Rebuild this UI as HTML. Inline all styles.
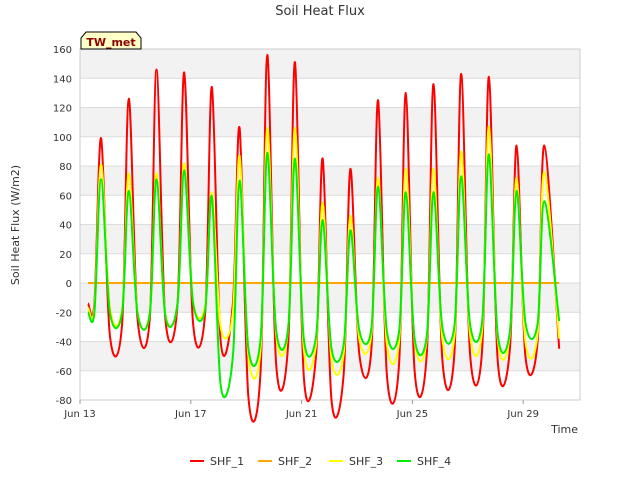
<!DOCTYPE html>
<html><head><meta charset="utf-8"><style>
body{margin:0;background:#fff;font-family:"Liberation Sans","DejaVu Sans",sans-serif}
svg text{font-family:"DejaVu Sans","Liberation Sans",sans-serif}
</style></head><body>
<svg id="c" width="640" height="480" xmlns="http://www.w3.org/2000/svg">
<rect width="640" height="480" fill="#fff"/>
<text x="320" y="15" text-anchor="middle" font-size="13" fill="#333">Soil Heat Flux</text>
<g id="bands"></g><g id="grid"></g><g id="axes"></g><g id="series"></g>
<text x="19" y="225" transform="rotate(-90 19 225)" text-anchor="middle" font-size="11" fill="#333">Soil Heat Flux (W/m2)</text>
<text x="578" y="433" text-anchor="end" font-size="11" fill="#333">Time</text>
<g>
<path d="M81,49 L81,38 L86,32 L136,32 L141,38 L141,49 Z" fill="#ffffc8" stroke="#000" stroke-width="1"/>
<text x="111" y="46" text-anchor="middle" font-size="11" font-weight="bold" fill="#8b0000">TW_met</text>
</g>
<g id="legend"></g>
</svg>
<script>
const yTicks=[-80,-60,-40,-20,0,20,40,60,80,100,120,140,160];
const xTickLabels=["Jun 13","Jun 17","Jun 21","Jun 25","Jun 29"];
const xTickDays=[0,4,8,12,16];
const seriesNames=["SHF_1","SHF_2","SHF_3","SHF_4"];
const seriesColors=["#ff0000","#ffa500","#ffff00","#00ee00"];
const startVals=[-14,0,-17,-20];
const red_peak=[99,126,146,144,134,106,156,151,85,78,125,130,136,143,141,94,94];
const red_trough=[-36,-25,-24,-27,-40,-78,-55,-64,-80,-48,-63,-60,-52,-48,-53,-50,-45];
const red_pre=[-28,-24,-15,-20,-14,-60,-40,-50,-62,-45,-55,-48,-47,-45,-45,-40];
const orange_peak=[0,0,0,0,0,0,0,0,0,0,0,0,0,0,0,0,0];
const orange_trough=[0,0,0,0,0,0,0,0,0,0,0,0,0,0,0,0,0];
const orange_pre=[0,0,0,0,0,0,0,0,0,0,0,0,0,0,0,0];
const yellow_peak=[81,75,75,82,62,87,106,106,55,46,72,78,78,90,107,72,76];
const yellow_trough=[-17,-20,-21,-12,-30,-50,-35,-45,-52,-38,-42,-40,-38,-35,-38,-40,-38];
const yellow_pre=[-18,-20,-14,-15,-20,-45,-30,-42,-48,-35,-40,-38,-36,-32,-35,-35];
const green_peak=[71,63,71,77,59,70,89,85,43,36,66,62,62,73,88,63,56];
const green_trough=[-20,-21,-22,-13,-70,-45,-32,-38,-45,-32,-33,-38,-30,-28,-35,-27,-26];
const green_pre=[-20,-21,-14,-18,-50,-38,-30,-37,-42,-31,-33,-36,-29,-26,-33,-28];
const peaks=[red_peak,orange_peak,yellow_peak,green_peak];
const troughs=[red_trough,orange_trough,yellow_trough,green_trough];
const pres=[red_pre,orange_pre,yellow_pre,green_pre];

const NS="http://www.w3.org/2000/svg";
const X0=80,X1=580,Y0=49,Y1=400,DAYPX=27.7;
const xs=d=>X0+d*DAYPX;
const ys=v=>Y1-(v+80)/240*(Y1-Y0);
function mk(tag,attrs,parent){const e=document.createElementNS(NS,tag);for(const k in attrs)e.setAttribute(k,attrs[k]);parent.appendChild(e);return e;}
const bands=document.getElementById('bands'),grid=document.getElementById('grid'),axes=document.getElementById('axes'),ser=document.getElementById('series'),leg=document.getElementById('legend');
mk('rect',{x:X0,y:Y0,width:X1-X0,height:Y1-Y0,fill:'#fff'},bands);
for(let i=0;i<yTicks.length-1;i++){
  if((yTicks.length-2-i)%2===0){
    const b=mk('rect',{x:X0,y:ys(yTicks[i+1]),width:X1-X0,height:ys(yTicks[i])-ys(yTicks[i+1]),fill:'#f2f2f2'},bands);
    
    
  }
}
yTicks.forEach(v=>{
  const l=mk('line',{x1:X0,x2:X1,y1:ys(v),y2:ys(v),stroke:'#dcdcdc','stroke-width':1},grid);
  
  
  const t=mk('text',{x:X0-8,y:ys(v)+4,'text-anchor':'end','font-size':10,fill:'#333'},axes);
  t.textContent=v;
  
  
});
mk('rect',{x:X0,y:Y0,width:X1-X0,height:Y1-Y0,fill:'none',stroke:'#ccc'},axes);
xTickDays.forEach((d,i)=>{
  mk('line',{x1:xs(d),x2:xs(d),y1:Y1,y2:Y1+4,stroke:'#999'},axes);
  const t=mk('text',{x:xs(d),y:Y1+17,'text-anchor':'middle','font-size':10,fill:'#333'},axes);
  t.textContent=xTickLabels[i];
  
  
});
function smooth(P){
  let d='M'+P[0][0].toFixed(1)+','+P[0][1].toFixed(1);
  for(let i=0;i<P.length-1;i++){
    const p0=P[i-1]||P[i],p1=P[i],p2=P[i+1],p3=P[i+2]||P[i+1];
    const k=0.5/3;
    const c1=[p1[0]+(p2[0]-p0[0])*k,p1[1]+(p2[1]-p0[1])*k];
    const c2=[p2[0]-(p3[0]-p1[0])*k,p2[1]-(p3[1]-p1[1])*k];
    d+=' C'+c1[0].toFixed(1)+','+c1[1].toFixed(1)+' '+c2[0].toFixed(1)+','+c2[1].toFixed(1)+' '+p2[0].toFixed(1)+','+p2[1].toFixed(1);
  }
  return d;
}
[1,0,2,3].forEach(s=>{
  const pts=[[0.29,startVals[s]]];
  const pk=peaks[s],tr=troughs[s],pr=pres[s];
  for(let d=0;d<pk.length;d++){
    pts.push([d+0.52,d>0?pr[d-1]:startVals[s]]);
    pts.push([d+0.76,pk[d]]);
    pts.push([d<pk.length-1?d+1.08:17.3,tr[d]]);
  }
  const P=pts.map(q=>[xs(q[0]),ys(q[1])]);
  const p=mk('path',{d:smooth(P),fill:'none',stroke:seriesColors[s],'stroke-width':2,'stroke-linejoin':'round'},ser);
  
  
});
const lx=[190,258,329,397];
seriesNames.forEach((n,i)=>{
  const g=mk('g',{},leg);
  
  
  mk('line',{x1:lx[i],x2:lx[i]+14,y1:461,y2:461,stroke:seriesColors[i],'stroke-width':2},g);
  const t=mk('text',{x:lx[i]+20,y:465,'font-size':11,fill:'#333'},g);
  t.textContent=n;
});
</script>
</body></html>
